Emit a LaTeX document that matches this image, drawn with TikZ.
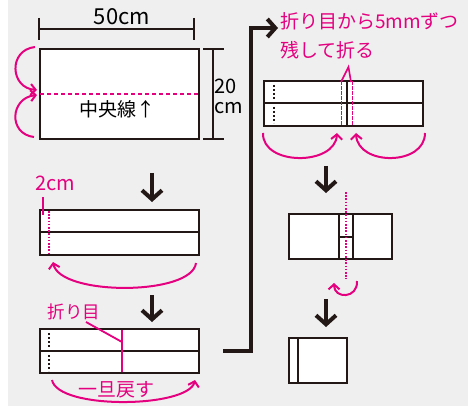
\documentclass[tikz,border=0pt]{standalone}
\usepackage{fontspec}
\setmainfont{Noto Sans CJK JP}
\usetikzlibrary{arrows.meta}
\definecolor{mag}{HTML}{E4007F}
\definecolor{ink}{HTML}{231815}
\definecolor{bg}{HTML}{EFEFEF}
\begin{document}
\begin{tikzpicture}[x=1pt,y=-1pt,
 sheet/.style={draw=ink,line width=2.2pt,fill=white},
 crease/.style={draw=ink,line width=2pt},
 stepArrow/.style={draw=ink,line width=4pt,-{Straight Barb[length=9pt,width=20pt]}},
 foldArrow/.style={draw=mag,line width=2pt,-{Straight Barb[length=5pt,width=11pt]}},
 dimline/.style={draw=ink,line width=1.5pt},
 magdot/.style={draw=mag,line width=1.6pt,dash pattern=on 1.6pt off 1.6pt},
 inkdot/.style={draw=ink,line width=2pt,dash pattern=on 2pt off 2pt},
 magline/.style={draw=mag,line width=1.8pt},
 lbl/.style={inner sep=0pt,font=\fontsize{19}{22}\selectfont},
 maglbl/.style={lbl,text=mag},
]
\fill[white] (0,0) rectangle (468,406);
\fill[bg] (8,0) rectangle (468,406);
\useasboundingbox (0,0) rectangle (468,406);

% ---- panel 1
\draw[sheet] (40,49) rectangle (199,139);
\draw[mag,line width=1.6pt,dash pattern=on 4pt off 3pt] (40,94) -- (199,94);
\node[lbl] (cline) at (117,109) {中央線↑};
\draw[dimline] (39,18) -- (39,40) (194,18) -- (194,40) (39,29) -- (194,29);
\node[lbl,font=\fontsize{22}{22}\selectfont] (w50) at (122,17) {50cm};
\draw[dimline] (203,49) -- (224,49) (203,139) -- (224,139) (213,49) -- (213,139);
\node[lbl,font=\fontsize{20}{20}\selectfont,align=left,anchor=north west] (h20) at (214,79) {20\\cm};
\draw[foldArrow] (35,47) .. controls (8,50) and (10,88) .. (37,90);
\draw[foldArrow] (34,137) .. controls (8,134) and (10,98) .. (37,95);

% ---- panel 2
\coordinate (a1s) at (152,173); \coordinate (a1e) at (152,202);
\draw[stepArrow] (a1s) -- (a1e);
\draw[sheet] (40,210) rectangle (199,255);
\draw[crease] (40,232) -- (199,232);
\draw[magdot] (49,211) -- (49,255);
\draw[magline] (43,197) -- (43,215);
\node[maglbl,font=\fontsize{20}{20}\selectfont] (cm2) at (55,183) {2cm};
\draw[foldArrow] (196,263) .. controls (192,296) and (60,296) .. (53,262);

% ---- panel 3
\coordinate (a2s) at (152,295); \coordinate (a2e) at (152,322);
\draw[stepArrow] (a2s) -- (a2e);
\draw[sheet] (40,329) rectangle (199,373);
\draw[crease,line width=2.5pt] (40,351) -- (199,351);
\draw[inkdot] (49,333) -- (49,348) (49,355) -- (49,371);
\draw[magline] (122,330) -- (122,372) (86,322) -- (122,342);
\node[maglbl,font=\fontsize{17.5}{20}\selectfont] (orime) at (74,312) {折り目};
\draw[foldArrow] (52,380) .. controls (58,410) and (188,408) .. (195,380);
\node[maglbl] (modosu) at (116,390) {一旦戻す};

% ---- connector to right column
\coordinate (c1) at (223,351); \coordinate (c2) at (251,351);
\coordinate (c3) at (251,28); \coordinate (c4) at (278,28);
\draw[draw=ink,line width=4pt,line join=miter,-{Straight Barb[length=8pt,width=18pt]}] (c1) -- (c2) -- (c3) -- (c4);

% ---- panel 4
\node[maglbl,align=left,anchor=north west,font=\fontsize{19}{29}\selectfont] (note) at (280,12) {折り目から5mmずつ\\残して折る};
\draw[sheet] (264,81) rectangle (423,126);
\draw[crease] (264,103) -- (423,103);
\draw[inkdot] (274,85) -- (274,100) (274,107) -- (274,123);
\draw[crease,line width=2.5pt] (347,81) -- (347,126);
\draw[mag,line width=0.9pt,dash pattern=on 4pt off 1pt] (341,81) -- (341,126) (352,81) -- (352,126);
\draw[mag,line width=1.6pt] (341,82) -- (348.5,67) -- (351,82);
\draw[foldArrow] (263,133) .. controls (262,166) and (335,166) .. (337,133);
\draw[foldArrow] (425,133) .. controls (425,166) and (358,166) .. (356,133);

% ---- panel 5
\coordinate (a3s) at (326,166); \coordinate (a3e) at (326,193);
\draw[stepArrow] (a3s) -- (a3e);
\draw[sheet] (289,214) rectangle (392,259);
\draw[draw=ink,line width=1.5pt] (339,214) -- (339,259) (353,214) -- (353,259);
\draw[crease] (339,237) -- (353,237);
\draw[magdot] (346,192) -- (346,279);
\draw[foldArrow] (357,281) .. controls (358,299) and (334,299) .. (334,283);

% ---- panel 6
\coordinate (a4s) at (326,299); \coordinate (a4e) at (326,327);
\draw[stepArrow] (a4s) -- (a4e);
\draw[sheet] (289,338) rectangle (347,383);
\draw[crease,line width=2.2pt] (298,338) -- (298,383);
\end{tikzpicture}
\end{document}
